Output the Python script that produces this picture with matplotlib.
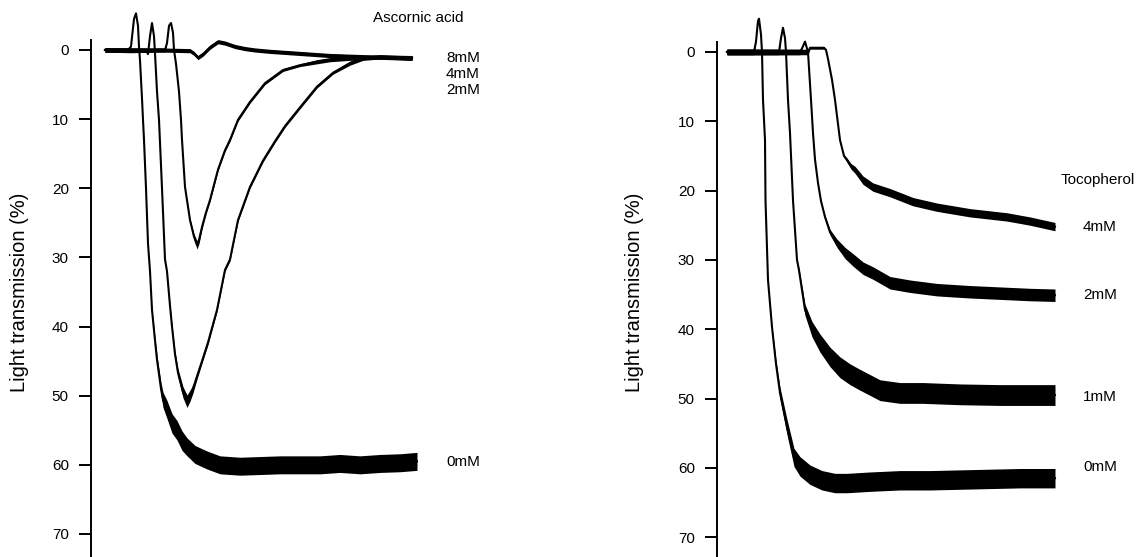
import matplotlib
matplotlib.use("Agg")
import matplotlib.pyplot as plt
import numpy as np

plt.rcParams['font.family'] = ['Liberation Sans', 'DejaVu Sans']

# ---------------- data (time in arbitrary units, light transmission in %) -------------
# Panel A: Ascorbic acid
asc_labels = ["8mM", "4mM", "2mM", "0mM"]

a8_t = [14, 39, 69, 99, 103, 107, 112, 119, 127, 134, 144, 154, 164, 179, 199, 219, 239, 259, 279, 299, 321]
a8_v = [0, 0.1, 0, 0.1, 0.5, 1.1, 0.6, -0.4, -1.2, -1.0, -0.5, -0.2, 0, 0.2, 0.4, 0.6, 0.8, 0.9, 1.0, 1.1, 1.2]
a8_b = [0.3] * len(a8_t)

a4_t = [14, 74, 76, 78, 80, 82, 83, 85, 88, 90, 91, 94, 99, 103, 106, 108, 111, 115, 119, 127, 134, 139, 147, 159, 174, 192, 209, 226, 239, 259, 289, 321]
a4_v = [0, 0, -1, -3.5, -3.9, -2.5, 0, 2, 6, 10.1, 13, 19.8, 24.6, 27, 28.2, 27.5, 25.6, 23.5, 21.7, 17.3, 14.5, 13, 10.1, 7.5, 4.8, 2.9, 2.2, 1.7, 1.4, 1.2, 1.0, 1.1]
a4_b = [0.3, 0.3, 0, 0, 0, 0, 0, 0, 0, 0, 0, 0, 0.2, 0.4, 0.6, 0.5, 0.3, 0.2, 0.2, 0.2, 0.2, 0.2, 0.2, 0.2, 0.2, 0.2, 0.2, 0.3, 0.3, 0.3, 0.3, 0.3]

a2_t = [14, 55, 57, 59, 61, 63, 64, 66, 68, 71, 74, 76, 79, 81, 84, 87, 92, 96, 99, 102, 106, 111, 117, 126, 134, 139, 147, 159, 172, 184, 194, 209, 226, 242, 259, 272, 289, 309, 321]
a2_v = [0, 0, 0.6, -2, -3.9, -2, 0.5, 6, 10.1, 20, 30.3, 32, 37, 40, 44, 46.7, 49.5, 50.8, 50, 49, 47.2, 45, 42.3, 37.6, 31.8, 30.3, 24.6, 19.8, 16, 13.2, 11, 8.3, 5.3, 3.3, 1.9, 1.2, 1.0, 1.1, 1.2]
a2_b = [0.3, 0.3, 0, 0, 0, 0, 0, 0, 0, 0, 0, 0, 0.2, 0.3, 0.4, 0.6, 0.8, 0.9, 0.8, 0.6, 0.4, 0.3, 0.3, 0.2, 0.2, 0.2, 0.2, 0.2, 0.2, 0.2, 0.2, 0.2, 0.2, 0.2, 0.3, 0.3, 0.3, 0.3, 0.3]

a0_t = [14, 37, 40, 43, 45, 47, 48, 49, 51, 52, 53, 55, 57, 59, 61, 64, 66, 70, 72, 76, 81, 86, 91, 96, 104, 116, 129, 149, 169, 189, 209, 229, 249, 269, 289, 309, 326]
a0_v = [0, 0, -0.5, -4.5, -5.3, -3.5, -0.5, 1.5, 7, 10.1, 13, 20, 28, 32, 37.6, 42, 44.8, 49, 50.6, 52, 54, 55, 56.5, 57.4, 58.5, 59.3, 60, 60.2, 60.1, 60, 60, 60, 59.8, 60, 59.8, 59.7, 59.5]
a0_b = [0.3, 0.3, 0, 0, 0, 0, 0, 0, 0, 0, 0, 0, 0, 0, 0.2, 0.4, 0.6, 0.9, 1.1, 1.3, 1.4, 1.4, 1.4, 1.3, 1.3, 1.3, 1.3, 1.3, 1.3, 1.3, 1.3, 1.3, 1.3, 1.3, 1.3, 1.3, 1.3]

# Panel B: Tocopherol
toc_labels = ["4mM", "2mM", "1mM", "0mM"]

t4_t = [10, 91, 93, 107, 109, 111, 115, 118, 123, 127, 130, 134, 138, 146, 156, 173, 196, 220, 253, 290, 313, 338]
t4_v = [0, 0, -0.6, -0.6, -0.3, 1, 4, 6.9, 12.7, 15, 15.6, 16.5, 17, 18.5, 19.5, 20.3, 21.6, 22.4, 23.2, 23.8, 24.4, 25.2]
t4_b = [0.4, 0.4, 0.2, 0.2, 0, 0, 0, 0, 0, 0.2, 0.3, 0.4, 0.5, 0.6, 0.6, 0.6, 0.6, 0.6, 0.6, 0.6, 0.6, 0.6]

t2_t = [10, 83, 85, 88, 90, 91, 94, 96, 98, 101, 104, 108, 113, 120, 128, 136, 146, 156, 173, 193, 220, 253, 283, 313, 338]
t2_v = [0, 0, -0.5, -1.5, -0.5, 0, 6.9, 11.7, 15.5, 18.9, 21.5, 23.8, 26, 27.6, 29, 30, 31.2, 31.9, 33.3, 33.8, 34.3, 34.6, 34.8, 35, 35.1]
t2_b = [0.4, 0.4, 0, 0, 0, 0, 0, 0, 0, 0, 0, 0.2, 0.4, 0.6, 0.8, 0.9, 0.9, 0.9, 0.9, 0.9, 0.9, 0.9, 0.9, 0.9, 0.9]

t1_t = [10, 62, 64, 66, 68, 69, 71, 73, 76, 80, 82, 88, 95, 103, 113, 123, 133, 143, 163, 183, 206, 243, 283, 338]
t1_v = [0, 0, -2, -3.5, -2, 0, 6.9, 11.7, 21.4, 30, 31.5, 37.2, 40, 42, 44, 45.5, 46.5, 47.3, 48.8, 49.2, 49.2, 49.4, 49.5, 49.5]
t1_b = [0.4, 0.4, 0, 0, 0, 0, 0, 0, 0, 0, 0.3, 0.8, 1.1, 1.3, 1.4, 1.5, 1.5, 1.5, 1.5, 1.5, 1.5, 1.5, 1.5, 1.5]

t0_t = [10, 37, 39, 41, 42, 44, 45, 46, 48, 48.5, 51, 55, 59, 63, 70, 77, 83, 93, 105, 118, 130, 153, 183, 213, 243, 273, 303, 338]
t0_v = [0, 0, -1.5, -4.5, -4.8, -2.5, 0, 6.9, 12.7, 21.4, 32.9, 39.7, 45, 49.2, 54.1, 58.5, 59.8, 61, 61.8, 62.2, 62.2, 62, 61.8, 61.8, 61.7, 61.6, 61.5, 61.5]
t0_b = [0.4, 0.4, 0, 0, 0, 0, 0, 0, 0, 0, 0, 0.2, 0.5, 0.8, 1.1, 1.3, 1.4, 1.4, 1.4, 1.4, 1.4, 1.4, 1.4, 1.4, 1.4, 1.4, 1.4, 1.4]

yticks = [0, 10, 20, 30, 40, 50, 60, 70]
ylabel = "Light transmission (%)"

# ---------------- figure ----------------
W, H = 1141, 557
fig = plt.figure(figsize=(W / 100, H / 100), dpi=100)


def px(x, y):
    return x / W, 1 - y / H


def make_axes(left_px, right_px, ylim, spine_top):
    ax = fig.add_axes([left_px / W, 0, (right_px - left_px) / W, 1])
    ax.set_xlim(0, right_px - left_px)
    ax.set_ylim(*ylim)
    for s in ["top", "right", "bottom"]:
        ax.spines[s].set_visible(False)
    ax.spines["left"].set_linewidth(1.4)
    ax.spines["left"].set_bounds(spine_top, ylim[0])
    ax.set_xticks([])
    ax.set_yticks(yticks)
    ax.tick_params(axis="y", direction="out", length=9, width=1.4, pad=7, labelsize=11)
    ax.patch.set_visible(False)
    return ax


def draw(ax, t, v, b):
    t = np.asarray(t, float)
    v = np.asarray(v, float)
    b = np.asarray(b, float)
    ax.fill_between(t, v - b, v + b, color="black", lw=0)
    ax.plot(t, v, color="black", lw=1.5, solid_joinstyle="round")


axL = make_axes(91, 440, (73.33, -7.23), -1.5)
for t, v, b in [(a8_t, a8_v, a8_b), (a4_t, a4_v, a4_b), (a2_t, a2_v, a2_b), (a0_t, a0_v, a0_b)]:
    draw(axL, t, v, b)

axR = make_axes(717, 1070, (72.87, -7.50), -1.4)
for t, v, b in [(t4_t, t4_v, t4_b), (t2_t, t2_v, t2_b), (t1_t, t1_v, t1_b), (t0_t, t0_v, t0_b)]:
    draw(axR, t, v, b)

# y labels
fig.text(*px(20, 292), ylabel, rotation=90, ha="center", va="center", fontsize=14.5)
fig.text(*px(635, 292), ylabel, rotation=90, ha="center", va="center", fontsize=14.5)

# annotations
fs = 11
fig.text(*px(373, 18), "Ascornic acid", ha="left", va="center", fontsize=fs)
fig.text(*px(446, 58), asc_labels[0], ha="left", va="center", fontsize=fs)
fig.text(*px(446, 74), asc_labels[1], ha="left", va="center", fontsize=fs)
fig.text(*px(446, 90), asc_labels[2], ha="left", va="center", fontsize=fs)
fig.text(*px(446, 462), asc_labels[3], ha="left", va="center", fontsize=fs)

fig.text(*px(1061, 180), "Tocopherol", ha="left", va="center", fontsize=fs)
fig.text(*px(1083, 227), toc_labels[0], ha="left", va="center", fontsize=fs)
fig.text(*px(1083, 295), toc_labels[1], ha="left", va="center", fontsize=fs)
fig.text(*px(1083, 397), toc_labels[2], ha="left", va="center", fontsize=fs)
fig.text(*px(1083, 467), toc_labels[3], ha="left", va="center", fontsize=fs)

fig.savefig("out.png", dpi=100)
